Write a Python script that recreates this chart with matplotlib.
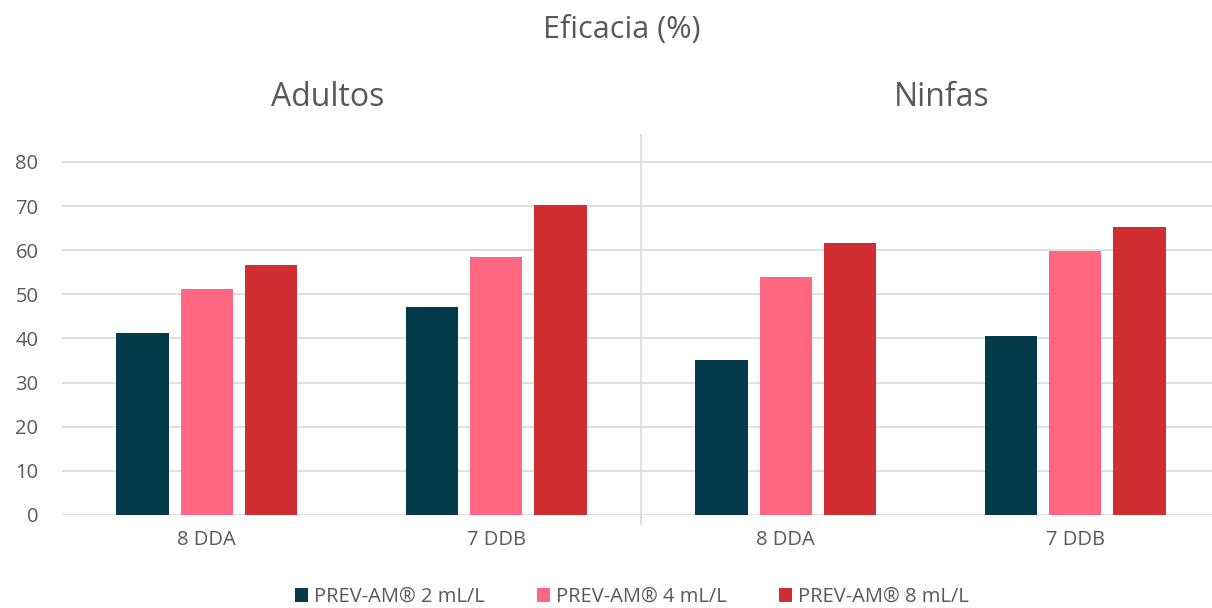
import numpy as np
import matplotlib.pyplot as plt

plt.rcParams['font.family'] = ['Open Sans', 'DejaVu Sans']

categories = ['8 DDA', '7 DDB', '8 DDA', '7 DDB']
series_names = ['PREV-AM® 2 mL/L', 'PREV-AM® 4 mL/L', 'PREV-AM® 8 mL/L']
dose_2 = [41.3, 47.2, 35.1, 40.6]
dose_4 = [51.2, 58.5, 54.0, 59.9]
dose_8 = [56.7, 70.3, 61.7, 65.3]
colors = ['#033B4A', '#FF6680', '#D12E33']
text_color = '#595959'

fig = plt.figure(figsize=(12.12, 6.08), dpi=100)
ax = fig.add_axes([62 / 1212, 1 - 515 / 608, 1158 / 1212, 380 / 608])

x = np.arange(len(categories))
width = 0.18
step = 0.222
for i, (vals, name, c) in enumerate(zip([dose_2, dose_4, dose_8], series_names, colors)):
    ax.bar(x + (i - 1) * step, vals, width, color=c, label=name, zorder=3)

ax.set_xlim(-0.5, 3.5)
ax.set_ylim(0, 86.1)
ax.set_yticks(range(0, 81, 10))
ax.set_xticks(x)
ax.set_xticklabels(categories)
ax.grid(axis='y', color='#D9D9D9', linewidth=1.2, zorder=0)
for s in ax.spines.values():
    s.set_visible(False)
ax.tick_params(length=0, colors=text_color, labelsize=14.5)
ax.tick_params(axis='y', pad=17)
ax.tick_params(axis='x', pad=11)

# linea que separa Adultos y Ninfas
ax.plot([1.5, 1.5], [-2, 86.1], color='#D9D9D9', linewidth=1.2, clip_on=False, zorder=1)

fig.text(622 / 1212, 1 - 30 / 608, 'Eficacia (%)', ha='center', va='center', fontsize=22, color=text_color)
fig.text(328 / 1212, 1 - 97 / 608, 'Adultos', ha='center', va='center', fontsize=23, color=text_color)
fig.text(942 / 1212, 1 - 97 / 608, 'Ninfas', ha='center', va='center', fontsize=23, color=text_color)

fig.legend(loc='center', bbox_to_anchor=(632 / 1212, 1 - 597 / 608), ncol=3, frameon=False,
           fontsize=14.5, labelcolor=text_color, handlelength=0.65, handleheight=0.65,
           handletextpad=0.3, columnspacing=2.6)

fig.savefig('out.png', dpi=100)
